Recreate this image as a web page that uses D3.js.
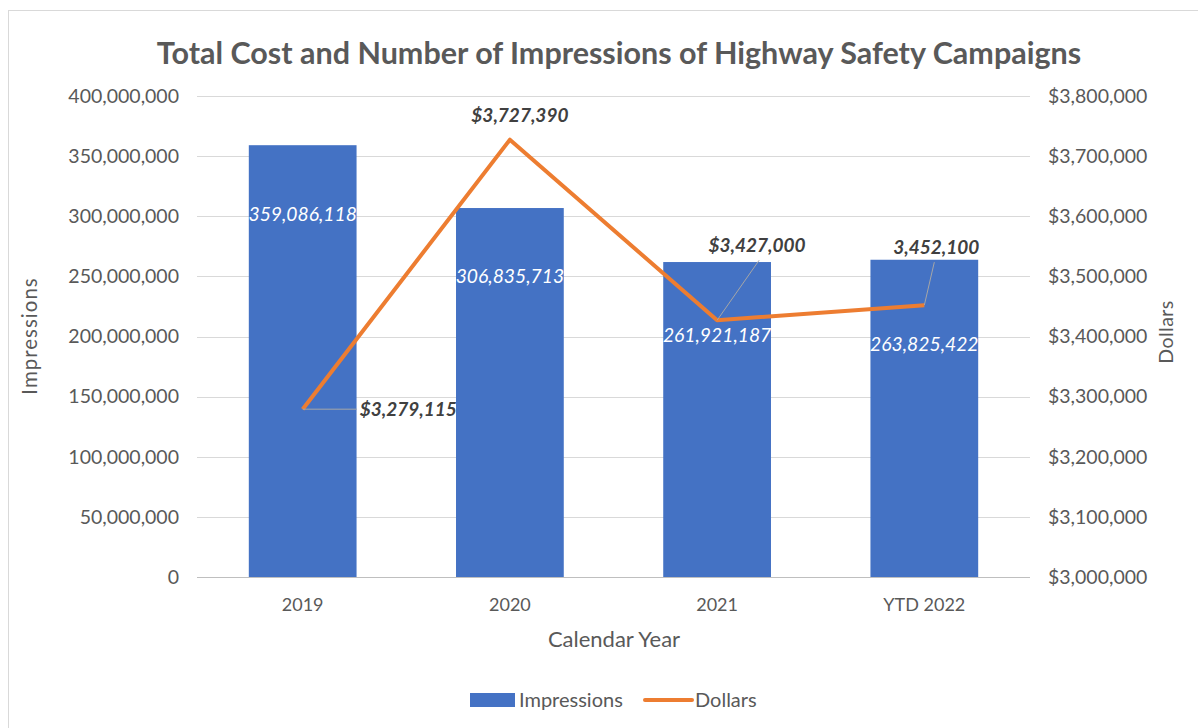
<!DOCTYPE html>
<html lang="en">
<head>
<meta charset="utf-8">
<title>Highway Safety Campaigns</title>
<script src="https://cdn.jsdelivr.net/npm/d3@7"></script>
<style>
  body { margin: 0; background: #fff; }
  text { font-family: Lato, "Open Sans", sans-serif; }
</style>
</head>
<body>
<script>
// data
var years = ["2019", "2020", "2021", "YTD 2022"];
var impressions = [359086118, 306835713, 261921187, 263825422];
var dollars = [3279115, 3727390, 3427000, 3452100];
var dollarLabels = ["$3,279,115", "$3,727,390", "$3,427,000", "3,452,100"];
var leftTicks = [0, 50000000, 100000000, 150000000, 200000000, 250000000, 300000000, 350000000, 400000000];
var rightTicks = [3000000, 3100000, 3200000, 3300000, 3400000, 3500000, 3600000, 3700000, 3800000];

var w = 1198, h = 728;
var m = {left: 197, right: 168, top: 96, bottom: 151};

var svg = d3.select("body").append("svg")
  .attr("width", w).attr("height", h);

svg.append("rect")
  .attr("x", 8.5).attr("y", 10.5).attr("width", 1200).attr("height", 730)
  .attr("fill", "#fff").attr("stroke", "#d9d9d9");

var x = d3.scaleBand().domain(years).range([m.left, w - m.right]).paddingInner(0.48).paddingOuter(0.25);
var y = d3.scaleLinear().domain([0, 400000000]).range([h - m.bottom, m.top]);
var y2 = d3.scaleLinear().domain([3000000, 3800000]).range([h - m.bottom, m.top]);

// grid
svg.append("g").selectAll("line").data(leftTicks).enter().append("line")
  .attr("x1", m.left).attr("x2", w - m.right)
  .attr("y1", function(d) { return Math.round(y(d)) + 0.5; })
  .attr("y2", function(d) { return Math.round(y(d)) + 0.5; })
  .attr("stroke", function(d) { return d === 0 ? "#bfbfbf" : "#d9d9d9"; })
  .attr("stroke-width", 1);

var tickFmt = d3.format(",");
var usd = d3.format("$,");

svg.append("g").attr("transform", "translate(" + (m.left - 15) + ",0)")
  .call(d3.axisLeft(y).tickValues(leftTicks).tickSize(0).tickFormat(tickFmt))
  .call(function(g) { g.select(".domain").remove(); })
  .selectAll("text").attr("fill", "#595959").style("font-size", "19.5px");

svg.append("g").attr("transform", "translate(" + (w - m.right + 15) + ",0)")
  .call(d3.axisRight(y2).tickValues(rightTicks).tickSize(0).tickFormat(usd))
  .call(function(g) { g.select(".domain").remove(); })
  .selectAll("text").attr("fill", "#595959").style("font-size", "19.5px");

svg.append("g").attr("transform", "translate(0," + (h - m.bottom + 18) + ")")
  .call(d3.axisBottom(x).tickSize(0))
  .call(function(g) { g.select(".domain").remove(); })
  .selectAll("text").attr("fill", "#595959").style("font-size", "18px");

// bars
var bars = svg.append("g");
bars.selectAll("rect").data(impressions).enter().append("rect")
  .attr("x", function(d, i) { return x(years[i]); })
  .attr("y", function(d) { return y(d); })
  .attr("width", x.bandwidth())
  .attr("height", function(d) { return y(0) - y(d); })
  .attr("fill", "#4472C4");

var barLabelDy = [69, 68, 73, 84];
bars.selectAll("text").data(impressions).enter().append("text")
  .attr("x", function(d, i) { return x(years[i]) + x.bandwidth() / 2; })
  .attr("y", function(d, i) { return y(d) + barLabelDy[i] + 7; })
  .attr("text-anchor", "middle")
  .attr("fill", "#fff")
  .style("font-size", "19.3px").style("font-style", "italic")
  .text(function(d) { return tickFmt(d); });

// line
var cx = function(i) { return x(years[i]) + x.bandwidth() / 2; };
var line = d3.line()
  .x(function(d, i) { return cx(i); })
  .y(function(d) { return y2(d); });

svg.append("path").datum(dollars)
  .attr("d", line)
  .attr("fill", "none")
  .attr("stroke", "#ED7D31")
  .attr("stroke-width", 4)
  .attr("stroke-linejoin", "round");

// dollar labels with leader lines
var labelPos = [
  {dx: 57, dy: 0, anchor: "start", lead: [54, 0]},
  {dx: 10, dy: -25, anchor: "middle", lead: null},
  {dx: 40, dy: -75, anchor: "middle", lead: [42, -60]},
  {dx: 12, dy: -58, anchor: "middle", lead: [10, -43]}
];
var dl = svg.append("g");
dollars.forEach(function(d, i) {
  var p = labelPos[i];
  if (p.lead) {
    dl.append("line")
      .attr("x1", cx(i)).attr("y1", y2(d))
      .attr("x2", cx(i) + p.lead[0]).attr("y2", y2(d) + p.lead[1])
      .attr("stroke", "#a6a6a6").attr("stroke-width", 1);
  }
  dl.append("text")
    .attr("x", cx(i) + p.dx).attr("y", y2(d) + p.dy + 7)
    .attr("text-anchor", p.anchor)
    .attr("fill", "#404040")
    .style("font-size", "19px").style("font-weight", "bold").style("font-style", "italic")
    .text(dollarLabels[i]);
});

// titles
svg.append("text").attr("x", 619).attr("y", 64).attr("text-anchor", "middle")
  .attr("fill", "#595959").style("font-size", "30.5px").style("font-weight", "bold")
  .text("Total Cost and Number of Impressions of Highway Safety Campaigns");

svg.append("text").attr("transform", "translate(37,336) rotate(-90)")
  .attr("text-anchor", "middle").attr("fill", "#595959").style("font-size", "20.5px")
  .style("letter-spacing", "1px")
  .text("Impressions");

svg.append("text").attr("transform", "translate(1173,332) rotate(-90)")
  .attr("text-anchor", "middle").attr("fill", "#595959").style("font-size", "19.5px")
  .style("letter-spacing", "0.5px")
  .text("Dollars");

svg.append("text").attr("x", 614).attr("y", 647).attr("text-anchor", "middle")
  .attr("fill", "#595959").style("font-size", "22px")
  .text("Calendar Year");

// legend
var lg = svg.append("g");
lg.append("rect").attr("x", 470).attr("y", 693).attr("width", 45).attr("height", 14).attr("fill", "#4472C4");
lg.append("text").attr("x", 519).attr("y", 707).attr("fill", "#595959").style("font-size", "20px").text("Impressions");
lg.append("line").attr("x1", 645).attr("x2", 692).attr("y1", 700).attr("y2", 700)
  .attr("stroke", "#ED7D31").attr("stroke-width", 4).attr("stroke-linecap", "round");
lg.append("text").attr("x", 695).attr("y", 707).attr("fill", "#595959").style("font-size", "20px").text("Dollars");
</script>
</body>
</html>
